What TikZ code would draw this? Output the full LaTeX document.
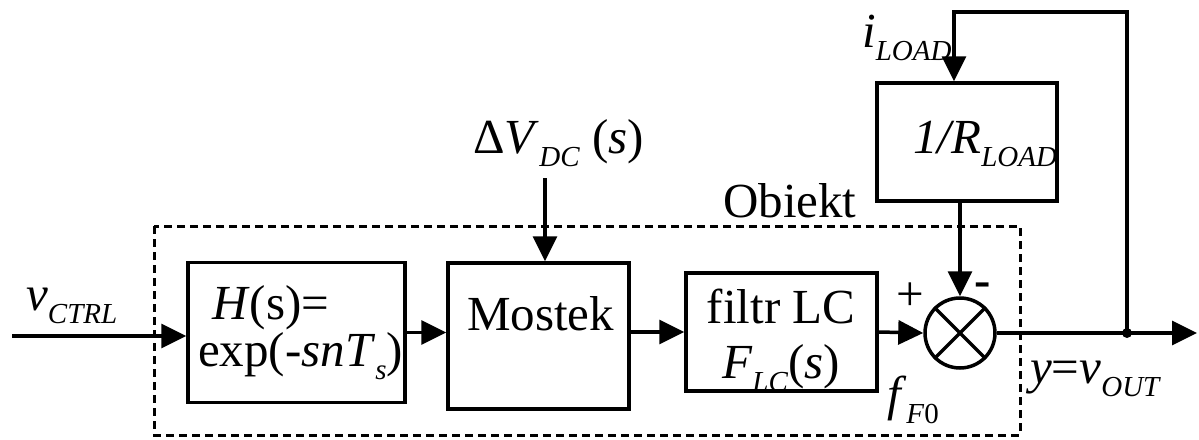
\documentclass[tikz,border=0pt]{standalone}
\usepackage{fontspec}
\setmainfont{Liberation Serif}[
  UprightFont=Liberation Serif,
  ItalicFont=Liberation Serif Italic,
  BoldFont=Liberation Serif Bold]
\usetikzlibrary{arrows.meta,calc}
% lowered, smaller subscript text
\newcommand{\sbs}[1]{\raisebox{-0.27em}{\fontsize{29}{31}\selectfont #1}}

\begin{document}
\begin{tikzpicture}[x=1pt,y=-1pt,
  blk/.style={draw,line width=3.5pt,inner sep=0pt},
  wire/.style={line width=3.5pt},
  arr/.style={wire,-{Triangle[length=25pt,width=24pt]}},
  lbl/.style={inner sep=0pt,font=\fontsize{49}{51}\selectfont},
  frame/.style={line width=3pt,dash pattern=on 8pt off 5pt},
]
\useasboundingbox (0,0) rectangle (1199,439);

% plant boundary
\draw[frame] (154,226) rectangle (1020,435);

% blocks
\node[blk,minimum width=217pt,minimum height=140pt] (H) at (296.5,332.5) {};
\node[blk,minimum width=181pt,minimum height=146pt] (M) at (538.5,336) {};
\node[blk,minimum width=191pt,minimum height=118pt] (F) at (781.5,332) {};
\node[blk,minimum width=180pt,minimum height=118pt] (R) at (967,142) {};
\node[draw,circle,line width=3.5pt,minimum size=70pt,inner sep=0pt] (S) at (960,333) {};
\draw[wire] (S.north west) -- (S.south east);
\draw[wire] (S.north east) -- (S.south west);

% block texts (two-line texts set as one tabular, baseline on the first row)
\node[lbl,anchor=base west] (Ht) at (198,319)
  {\fontsize{49}{44}\selectfont\begin{tabular}[t]{@{}l@{}}
   \hspace{14pt}\textit{H}(s)=\\
   exp(-\textit{snT}\sbs{\textit{s}})\end{tabular}};
\node[lbl,anchor=base west] (Mt) at (467,330) {Mostek};
\node[lbl,anchor=base] (Ft) at (781,323)
  {\fontsize{49}{55}\selectfont\begin{tabular}[t]{@{}c@{}}
   filtr LC\\
   \textit{F}\sbs{\textit{LC}}(\textit{s})\end{tabular}};
\node[lbl,anchor=base west] (Rt) at (913,153) {\textit{1/R}\sbs{\textit{LOAD}}};

% signal labels
\node[lbl,anchor=base west] (vin) at (26,310) {\textit{v}\sbs{\textit{CTRL}}};
\node[lbl,anchor=base west] (dvl) at (473,153) {Δ\textit{V}\sbs{\textit{DC}} (\textit{s})};
\node[lbl,anchor=base west] (obj) at (723,217) {Obiekt};
\node[lbl,anchor=base west] (il) at (862,47) {\textit{i}\sbs{\textit{LOAD}}};
\node[lbl,anchor=base west] (yl) at (1030,383) {\textit{y}=\textit{v}\sbs{\textit{OUT}}};
\node[lbl,anchor=base west] (fl) at (887,410) {\textit{f}\sbs{\textit{F}0}};
\node[lbl] (plus) at (910,297) {+};
\node[lbl] (minus) at (983,290) {\textbf{-}};

% connectors
\coordinate (in) at (12,336);
\coordinate (dv) at (545,178);
\coordinate (J) at (1127,333);
\coordinate (out) at (1197,333);
\coordinate (top) at (954,12);

\draw[arr] (in) -- (in -| H.west);
\draw[arr] (H.east) -- (H.east -| M.west);
\draw[arr] (M.east |- F.west) -- (F.west);
\draw[arr] (F.east) -- (S.west);
\draw[arr] (dv) -- (dv |- M.north);
\draw[arr] (S.north |- R.south) -- (S.north);
\draw[arr] (S.east) -- (out);
\draw[arr] (J) |- (top) -- (top |- R.north);
\fill (J) circle (5pt);
\end{tikzpicture}
\end{document}
